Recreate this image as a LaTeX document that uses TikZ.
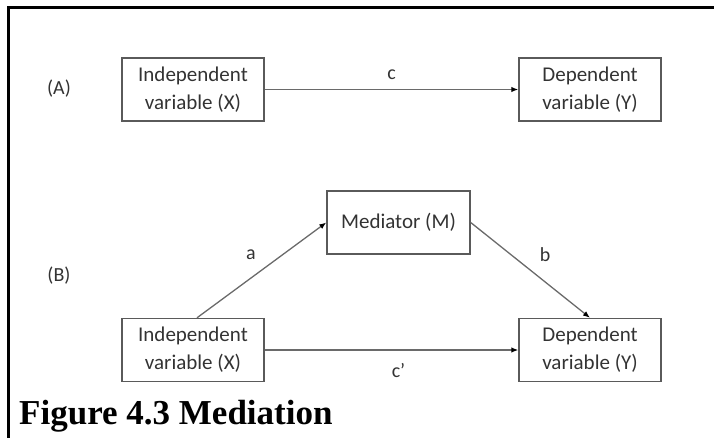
\documentclass[tikz,border=0pt]{standalone}
\usepackage{fontspec}
\setmainfont{Carlito}
\newfontfamily\captionfont{Liberation Serif}
\usetikzlibrary{arrows.meta,calc}
\definecolor{boxline}{HTML}{5A5A5A}
\definecolor{txt}{HTML}{333333}
\definecolor{arrowline}{HTML}{6A6A6A}
\begin{document}
\begin{tikzpicture}[x=1pt,y=-1pt,
  varbox/.style={draw=boxline,line width=1.4pt,minimum width=142pt,minimum height=63pt,
    inner sep=0pt,align=center,text=txt,font=\fontsize{21}{28}\selectfont},
  lbl/.style={text=txt,font=\fontsize{20}{24}\selectfont,inner sep=0pt},
  link/.style={draw=arrowline,line width=1.3pt,-{Latex[length=7pt,width=5.5pt,color=black]}}]
  \useasboundingbox (0,0) rectangle (714,438);
  % outer frame (top and left edges)
  \draw[line width=3pt,line cap=rect] (8,438) -- (8,8) -- (714,8);

  % (A) total effect
  \node[lbl] (la) at (59,89) {(A)};
  \node[varbox] (x1) at (193,89.5) {Independent\\variable (X)};
  \node[varbox] (y1) at (590,89.5) {Dependent\\variable (Y)};
  \draw[link] (x1) -- node[lbl,above=9pt] (c) {c} (y1);

  % (B) mediation model
  \node[lbl] (lb) at (59,276) {(B)};
  \node[varbox,minimum width=143pt] (m) at (398.5,222.5) {Mediator (M)};
  \node[varbox] (x2) at (193,350) {Independent\\variable (X)};
  \node[varbox] (y2) at (590,350) {Dependent\\variable (Y)};
  \draw[link] ($(x2.north)+(4,0)$) -- (m.west);
  \draw[link] (m.east) -- (y2.north);
  \draw[link] (x2) -- node[lbl,below=13pt,xshift=7pt] (cp) {c’} (y2);
  \node[lbl] (a) at (251,255) {a};
  \node[lbl] (b) at (545,255) {b};

  % caption
  \node[anchor=base west,inner sep=0pt,font=\captionfont\bfseries\fontsize{35}{35}\selectfont] (cap) at (19,424) {Figure 4.3 Mediation};
\end{tikzpicture}
\end{document}
